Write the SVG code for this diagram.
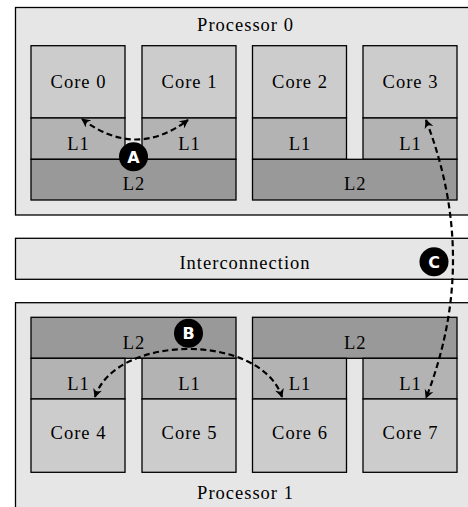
<svg xmlns="http://www.w3.org/2000/svg" width="468" height="507" viewBox="0 0 468 507">
<defs>
<style>
.proc{fill:#e6e6e6;stroke:#000;stroke-width:1.3}
.core{fill:#cccccc;stroke:#000;stroke-width:1.3}
.l1{fill:#b3b3b3;stroke:#000;stroke-width:1.3}
.l2{fill:#999999;stroke:#000;stroke-width:1.3}
.lbl{font-family:'Liberation Serif','DejaVu Serif',serif;font-size:18.5px;letter-spacing:1px;text-anchor:middle;fill:#000}
.badge circle{fill:#000}
.badge text{font-family:'DejaVu Sans','Liberation Sans',sans-serif;font-weight:bold;font-size:16px;text-anchor:middle;fill:#fff}
.arr{fill:none;stroke:#000;stroke-width:2.2;stroke-dasharray:6 3.5}
</style>
<marker id="head" viewBox="0 0 10 10" refX="9" refY="5" markerWidth="10" markerHeight="9" markerUnits="userSpaceOnUse" orient="auto-start-reverse">
<path d="M0,0 L10,5 L0,10 L3,5 z" fill="#000" stroke="none"/>
</marker>
</defs>

<g font-family="Liberation Serif, DejaVu Serif, serif">
<g id="processor0">
<rect class="proc" x="15.5" y="7.5" width="456.5" height="207.5"/>
<text class="lbl" x="245.5" y="31">Processor 0</text>
</g>
<g id="interconnection">
<rect class="proc" x="15.5" y="238.3" width="456.5" height="41"/>
<text class="lbl" x="245" y="268.8">Interconnection</text>
</g>
<g id="processor1">
<rect class="proc" x="15.5" y="302.7" width="456.5" height="208"/>
<text class="lbl" x="245.5" y="498.8">Processor 1</text>
</g>

<g id="core0"><rect class="core" x="31" y="45.7" width="94" height="72.3"/><text class="lbl" x="78.5" y="88">Core 0</text></g>
<g id="core1"><rect class="core" x="142" y="45.7" width="94" height="72.3"/><text class="lbl" x="189.5" y="88">Core 1</text></g>
<g id="core2"><rect class="core" x="252.5" y="45.7" width="94" height="72.3"/><text class="lbl" x="300" y="88">Core 2</text></g>
<g id="core3"><rect class="core" x="363" y="45.7" width="94" height="72.3"/><text class="lbl" x="410.5" y="88">Core 3</text></g>

<g id="l1-core0"><rect class="l1" x="31" y="118" width="94" height="41.3"/><text class="lbl" x="78.5" y="149.5">L1</text></g>
<g id="l1-core1"><rect class="l1" x="142" y="118" width="94" height="41.3"/><text class="lbl" x="189.5" y="149.5">L1</text></g>
<g id="l1-core2"><rect class="l1" x="252.5" y="118" width="94" height="41.3"/><text class="lbl" x="300" y="149.5">L1</text></g>
<g id="l1-core3"><rect class="l1" x="363" y="118" width="94" height="41.3"/><text class="lbl" x="410.5" y="149.5">L1</text></g>

<g id="l2-p0a"><rect class="l2" x="31" y="159.3" width="205" height="40.7"/><text class="lbl" x="134" y="189.5">L2</text></g>
<g id="l2-p0b"><rect class="l2" x="252.5" y="159.3" width="204.5" height="40.7"/><text class="lbl" x="355.2" y="189.5">L2</text></g>

<g id="l2-p1a"><rect class="l2" x="31" y="317.3" width="205" height="41"/><text class="lbl" x="134" y="348.8">L2</text></g>
<g id="l2-p1b"><rect class="l2" x="252.5" y="317.3" width="204.5" height="41"/><text class="lbl" x="355.2" y="348.8">L2</text></g>

<g id="l1-core4"><rect class="l1" x="31" y="358.3" width="94" height="40.7"/><text class="lbl" x="78.5" y="390.4">L1</text></g>
<g id="l1-core5"><rect class="l1" x="142" y="358.3" width="94" height="40.7"/><text class="lbl" x="189.5" y="390.4">L1</text></g>
<g id="l1-core6"><rect class="l1" x="252.5" y="358.3" width="94" height="40.7"/><text class="lbl" x="300" y="390.4">L1</text></g>
<g id="l1-core7"><rect class="l1" x="363" y="358.3" width="94" height="40.7"/><text class="lbl" x="410.5" y="390.4">L1</text></g>

<g id="core4"><rect class="core" x="31" y="399" width="94" height="73.3"/><text class="lbl" x="78.5" y="438.8">Core 4</text></g>
<g id="core5"><rect class="core" x="142" y="399" width="94" height="73.3"/><text class="lbl" x="189.5" y="438.8">Core 5</text></g>
<g id="core6"><rect class="core" x="252.5" y="399" width="94" height="73.3"/><text class="lbl" x="300" y="438.8">Core 6</text></g>
<g id="core7"><rect class="core" x="363" y="399" width="94" height="73.3"/><text class="lbl" x="410.5" y="438.8">Core 7</text></g>
</g>

<g id="connectors">
<path class="arr" d="M82,119 Q135,159.5 188,120" marker-start="url(#head)" marker-end="url(#head)"/>
<path class="arr" d="M95,397 C116,333 261,333 282,397" marker-start="url(#head)" marker-end="url(#head)"/>
<path class="arr" d="M426,120 Q480,260 426,398" marker-start="url(#head)" marker-end="url(#head)"/>
</g>

<g id="badgeA" class="badge"><circle cx="133.5" cy="156.7" r="14.5"/><text x="133.5" y="162.5">A</text></g>
<g id="badgeB" class="badge"><circle cx="188.5" cy="333.3" r="14.5"/><text x="188.5" y="339.1">B</text></g>
<g id="badgeC" class="badge"><circle cx="434" cy="261.7" r="14.5"/><text x="434" y="267.5">C</text></g>
</svg>
